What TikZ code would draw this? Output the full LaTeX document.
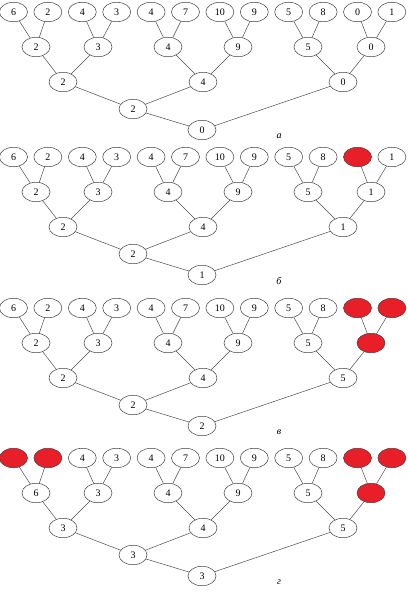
\documentclass[tikz,border=0pt]{standalone}
\usepackage{fontspec}
\setmainfont{Liberation Serif}
\usetikzlibrary{shapes.geometric}
\definecolor{redfill}{RGB}{232,30,40}
\tikzset{
 nd/.style={ellipse, draw=black!75, line width=0.5pt, minimum width=28pt, minimum height=19.5pt, inner sep=0pt, font=\fontsize{10}{12}\selectfont},
 wn/.style={nd, fill=white},
 rd/.style={nd, fill=redfill},
 edge/.style={draw=black!70, line width=0.5pt},
 plabel/.style={font=\itshape\fontsize{10}{12}\selectfont}
}
% #1 prefix, #2 y offset, #3 leaves, #4 level-1, #5 level-2, #6 level-3 spec, #7 level-4 spec, #8 label
\newcommand\treepanel[8]{%
 \begin{scope}[yshift=-#2pt]
 \foreach \s/\v [count=\i from 0] in {#3} {
   \node[\s] (#1l\i) at ({13.5+34.4*\i},-12) {\v};
 }
 \foreach \s/\v/\xx [count=\i from 0] in {#4} {
   \node[\s] (#1a\i) at (\xx,-47) {\v};
   \pgfmathtruncatemacro\ja{2*\i}
   \pgfmathtruncatemacro\jb{2*\i+1}
   \draw[edge] (#1a\i) -- (#1l\ja);
   \draw[edge] (#1a\i) -- (#1l\jb);
 }
 \foreach \s/\v/\xx [count=\i from 0] in {#5} {
   \node[\s] (#1b\i) at (\xx,-82) {\v};
   \pgfmathtruncatemacro\ja{2*\i}
   \pgfmathtruncatemacro\jb{2*\i+1}
   \draw[edge] (#1b\i) -- (#1a\ja);
   \draw[edge] (#1b\i) -- (#1a\jb);
 }
 \node[wn] (#1c) at (133,-109) {#6};
 \draw[edge] (#1c) -- (#1b0);
 \draw[edge] (#1c) -- (#1b1);
 \node[wn] (#1d) at (202,-130) {#7};
 \draw[edge] (#1d) -- (#1c);
 \draw[edge] (#1d) -- (#1b2);
 \node[plabel] (#1lab) at (279,-136) {#8};
 \end{scope}
}
\begin{document}
\begin{tikzpicture}[x=1pt,y=1pt]
\useasboundingbox (0,0) rectangle (407,-594);
\treepanel{A}{0}
 {wn/6,wn/2,wn/4,wn/3,wn/4,wn/7,wn/10,wn/9,wn/5,wn/8,wn/0,wn/1}
 {wn/2/36,wn/3/98,wn/4/168,wn/9/238,wn/5/308,wn/0/371}
 {wn/2/63,wn/4/203,wn/0/343}
 {2}{0}{а}
\treepanel{B}{145}
 {wn/6,wn/2,wn/4,wn/3,wn/4,wn/7,wn/10,wn/9,wn/5,wn/8,rd/{},wn/1}
 {wn/2/36,wn/3/98,wn/4/168,wn/9/238,wn/5/308,wn/1/371}
 {wn/2/63,wn/4/203,wn/1/343}
 {2}{1}{б}
\treepanel{C}{296}
 {wn/6,wn/2,wn/4,wn/3,wn/4,wn/7,wn/10,wn/9,wn/5,wn/8,rd/{},rd/{}}
 {wn/2/36,wn/3/98,wn/4/168,wn/9/238,wn/5/308,rd/{}/371}
 {wn/2/63,wn/4/203,wn/5/343}
 {2}{2}{в}
\treepanel{D}{446}
 {rd/{},rd/{},wn/4,wn/3,wn/4,wn/7,wn/10,wn/9,wn/5,wn/8,rd/{},rd/{}}
 {wn/6/36,wn/3/98,wn/4/168,wn/9/238,wn/5/308,rd/{}/371}
 {wn/3/63,wn/4/203,wn/5/343}
 {3}{3}{г}
\end{tikzpicture}
\end{document}
